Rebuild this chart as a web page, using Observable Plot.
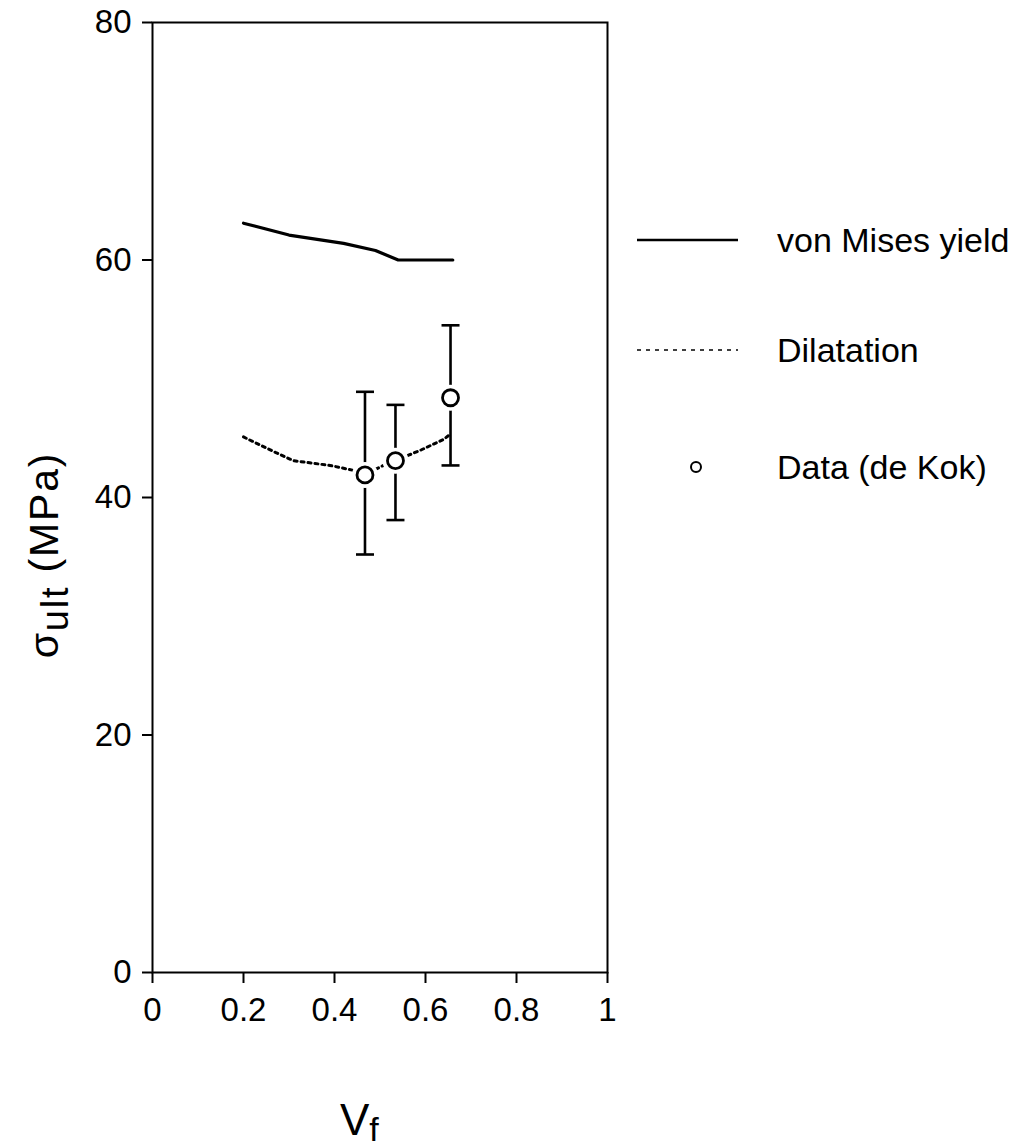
<!DOCTYPE html>
<html>
<head>
<meta charset="utf-8">
<script src="https://cdn.jsdelivr.net/npm/d3@7"></script>
<script src="https://cdn.jsdelivr.net/npm/@observablehq/plot@0.6"></script>
<style>
  html, body { margin: 0; padding: 0; background: #fff; }
  #chart svg { display: block; font-family: "Liberation Sans", Arial, Helvetica, sans-serif; }
</style>
</head>
<body>
<div id="chart"></div>
<script>
// ---- data ----
const misesVf   = [0.20, 0.30, 0.42, 0.49, 0.54, 0.66];
const misesSig  = [63.1, 62.1, 61.4, 60.8, 60.0, 60.0];

const dilatVf   = [0.20, 0.27, 0.31, 0.39, 0.44, 0.47, 0.51, 0.54, 0.59, 0.64, 0.65];
const dilatSig  = [45.1, 43.8, 43.1, 42.7, 42.3, 42.0, 42.75, 43.2, 44.0, 44.9, 45.2];

const dataVf    = [0.467, 0.534, 0.655];
const dataSig   = [41.9, 43.1, 48.4];
const dataLow   = [35.2, 38.1, 42.7];
const dataHigh  = [48.9, 47.8, 54.5];

const xTicks = [0, 0.2, 0.4, 0.6, 0.8, 1];
const xTickLabels = ["0", "0.2", "0.4", "0.6", "0.8", "1"];
const yTicks = [0, 20, 40, 60, 80];
const yTickLabels = ["0", "20", "40", "60", "80"];

const legendLabels = ["von Mises yield", "Dilatation", "Data (de Kok)"];

// ---- tables ----
const mises = misesVf.map((x, i) => ({x, y: misesSig[i]}));
const dilat = dilatVf.map((x, i) => ({x, y: dilatSig[i]}));
const data  = dataVf.map((x, i) => ({x, y: dataSig[i], lo: dataLow[i], hi: dataHigh[i]}));

const capSymbol = {
  draw(context, size) {
    const r = Math.sqrt(size / Math.PI);
    context.moveTo(-r, 0);
    context.lineTo(r, 0);
  }
};

const FS = 33;

const chart = Plot.plot({
  width: 1032,
  height: 1148,
  marginLeft: 152,
  marginRight: 425,
  marginTop: 22,
  marginBottom: 176,
  style: {background: "#fff", color: "#000"},
  x: {domain: [0, 1]},
  y: {domain: [0, 80]},
  marks: [
    Plot.axisX({ticks: xTicks, tickFormat: d => xTickLabels[xTicks.indexOf(d)], tickSize: 11, tickPadding: 14,
                fontSize: FS, strokeWidth: 2, label: null, stroke: "#000", fill: "#000"}),
    Plot.axisY({ticks: yTicks, tickFormat: d => yTickLabels[yTicks.indexOf(d)], tickSize: 10, tickPadding: 11,
                fontSize: FS, strokeWidth: 2, label: null, stroke: "#000", fill: "#000"}),
    Plot.frame({stroke: "#000", strokeWidth: 2}),
    Plot.line(mises, {x: "x", y: "y", stroke: "#000", strokeWidth: 3.2}),
    Plot.line(dilat, {x: "x", y: "y", stroke: "#000", strokeWidth: 3, strokeDasharray: "3,4"}),
    Plot.ruleX(data, {x: "x", y1: "lo", y2: "hi", stroke: "#000", strokeWidth: 2.6}),
    Plot.dot(data, {x: "x", y: "lo", symbol: capSymbol, r: 9, stroke: "#000", strokeWidth: 2.6, fill: "none"}),
    Plot.dot(data, {x: "x", y: "hi", symbol: capSymbol, r: 9, stroke: "#000", strokeWidth: 2.6, fill: "none"}),
    Plot.dot(data, {x: "x", y: "y", r: 13, fill: "#fff", stroke: "none"}),
    Plot.dot(data, {x: "x", y: "y", r: 8, fill: "#fff", stroke: "#000", strokeWidth: 2.8})
  ]
});

const svg = d3.select(chart);

// axis titles with subscripts
const yl = svg.append("text")
  .attr("transform", "translate(58,555) rotate(-90)")
  .attr("text-anchor", "middle")
  .attr("font-size", 41)
  .attr("letter-spacing", 1.8)
  .attr("fill", "#000");
yl.append("tspan").text("σ");
yl.append("tspan").attr("font-size", 38).attr("dy", 10).text("ult");
yl.append("tspan").attr("dy", -10).text(" (MPa)");

const xl = svg.append("text")
  .attr("x", 340).attr("y", 1135)
  .attr("text-anchor", "start")
  .attr("font-size", 44)
  .attr("fill", "#000");
xl.append("tspan").text("V");
xl.append("tspan").attr("font-size", 34).attr("dy", 6).text("f");

// legend
const lg = svg.append("g").attr("font-size", 34).attr("fill", "#000").attr("text-anchor", "start");
const rowsY = [240, 350, 467];
lg.append("line").attr("x1", 637).attr("x2", 738).attr("y1", rowsY[0]).attr("y2", rowsY[0])
  .attr("stroke", "#000").attr("stroke-width", 2.4);
lg.append("line").attr("x1", 637).attr("x2", 738).attr("y1", rowsY[1]).attr("y2", rowsY[1])
  .attr("stroke", "#000").attr("stroke-width", 1.6).attr("stroke-dasharray", "4,5");
lg.append("circle").attr("cx", 696).attr("cy", rowsY[2]).attr("r", 5)
  .attr("fill", "none").attr("stroke", "#000").attr("stroke-width", 2);
legendLabels.forEach((t, i) => {
  lg.append("text").attr("x", 777).attr("y", rowsY[i]).attr("dy", "0.35em").text(t);
});

document.getElementById("chart").appendChild(chart);
</script>
</body>
</html>
